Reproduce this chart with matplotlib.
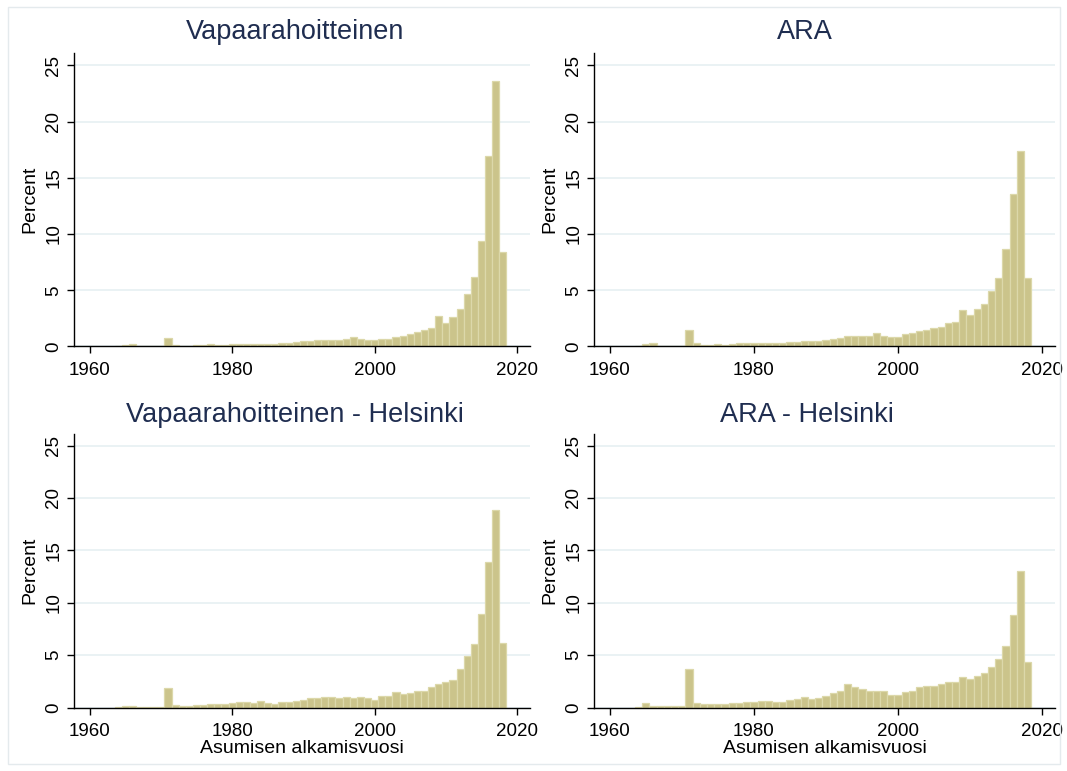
import numpy as np
import matplotlib
matplotlib.use('Agg')
import matplotlib.pyplot as plt
from matplotlib.patches import Rectangle

plt.rcParams['font.family'] = ['Liberation Sans', 'DejaVu Sans']

years = np.arange(1964, 2019)

vapaa = [0.06, 0.10, 0.18, 0.05, 0.05, 0.05, 0.05,
         0.77, 0.10, 0.06, 0.07, 0.10, 0.12, 0.18, 0.15, 0.15, 0.18,
         0.18, 0.24, 0.18, 0.24, 0.24, 0.24, 0.27, 0.33, 0.36, 0.48,
         0.48, 0.54, 0.62, 0.62, 0.60, 0.68, 0.86, 0.71, 0.60, 0.60,
         0.68, 0.68, 0.86, 0.95, 1.10, 1.28, 1.49, 1.67, 2.68, 2.10,
         2.60, 3.35, 4.65, 6.20, 9.40, 16.9, 23.6, 8.40]

ara = [0.06, 0.18, 0.27, 0.06, 0.05, 0.05, 0.05,
       1.43, 0.27, 0.12, 0.12, 0.18, 0.12, 0.24, 0.27, 0.30, 0.30,
       0.30, 0.30, 0.30, 0.30, 0.36, 0.36, 0.45, 0.48, 0.48, 0.60,
       0.68, 0.74, 0.95, 0.95, 0.92, 0.95, 1.22, 0.92, 0.86, 0.86,
       1.07, 1.19, 1.34, 1.46, 1.67, 1.73, 2.05, 2.14, 3.28, 2.78,
       3.30, 3.80, 4.95, 6.10, 8.70, 13.6, 17.4, 6.05]

vapaa_hki = [0.06, 0.13, 0.10, 0.06, 0.06, 0.06, 0.06,
             1.82, 0.22, 0.13, 0.13, 0.25, 0.25, 0.32, 0.32, 0.32, 0.41,
             0.54, 0.51, 0.41, 0.60, 0.41, 0.38, 0.51, 0.57, 0.64, 0.70,
             0.86, 0.86, 0.99, 0.99, 0.92, 0.99, 0.92, 0.99, 0.89, 0.73,
             1.08, 1.08, 1.46, 1.30, 1.40, 1.56, 1.62, 2.00, 2.20, 2.45,
             2.65, 3.65, 4.88, 6.10, 8.90, 13.85, 18.8, 6.17]

ara_hki = [0.06, 0.41, 0.16, 0.10, 0.16, 0.13, 0.10,
           3.63, 0.45, 0.29, 0.35, 0.35, 0.35, 0.41, 0.41, 0.54, 0.54,
           0.64, 0.60, 0.57, 0.48, 0.70, 0.80, 0.96, 0.80, 0.89, 1.11,
           1.40, 1.59, 2.23, 1.97, 1.78, 1.59, 1.56, 1.62, 1.24, 1.24,
           1.46, 1.62, 1.91, 2.04, 2.04, 2.23, 2.48, 2.48, 2.89, 2.73,
           3.05, 3.30, 3.88, 4.63, 5.84, 8.85, 13.0, 4.33]

titles = ['Vapaarahoitteinen', 'ARA',
          'Vapaarahoitteinen - Helsinki', 'ARA - Helsinki']
xticks = [1960, 1980, 2000, 2020]
yticks = [0, 5, 10, 15, 20, 25]

W, H = 1067, 771
fig = plt.figure(figsize=(W / 100, H / 100), dpi=100)
fig.patch.set_facecolor('white')

# outer frame like stata's graph region
fig.add_artist(Rectangle((8 / W, 1 - 764 / H), 1052 / W, 757 / H,
                         transform=fig.transFigure, fill=False,
                         edgecolor='#e4eaed', linewidth=1))

# pixel boxes: left, top, right, bottom
boxes = [(74, 53, 530, 346.5), (594, 53, 1055, 346.5),
         (74, 434, 530, 707.5), (594, 434, 1055, 707.5)]
title_pos = [(295, 32), (805, 32), (295, 415), (807, 415)]
series = [vapaa, ara, vapaa_hki, ara_hki]

for i, (box, vals) in enumerate(zip(boxes, series)):
    l, t, r, b = box
    ax = fig.add_axes([l / W, 1 - b / H, (r - l) / W, (b - t) / H])
    ax.bar(years, vals, width=1.0, color='#cbc48b', edgecolor='#dcd8aa',
           linewidth=0.9, zorder=2)
    ax.set_xlim(1957.8, 2021.8)
    ax.set_ylim(0, 26.1)
    ax.set_xticks(xticks)
    ax.set_yticks(yticks)
    ax.yaxis.grid(True, color='#e6f0f2', linewidth=1.2, zorder=0)
    ax.set_axisbelow(True)
    for s in ['top', 'right']:
        ax.spines[s].set_visible(False)
    for s in ['left', 'bottom']:
        ax.spines[s].set_linewidth(1.0)
    ax.tick_params(axis='both', direction='out', length=5, width=1.0,
                   labelsize=13.5)
    ax.tick_params(axis='x', pad=6)
    ax.tick_params(axis='y', pad=3.5)
    for lab in ax.get_yticklabels():
        lab.set_rotation(90)
        lab.set_va('center')
    ax.set_ylabel('Percent', fontsize=14)
    ax.yaxis.set_label_coords(-0.078, 0.5)
    if i >= 2:
        ax.set_xlabel('Asumisen alkamisvuosi', fontsize=14, labelpad=0)
    x, y = title_pos[i]
    fig.text(x / W, 1 - y / H, titles[i], fontsize=19.5, color='#1f2d50',
             ha='center', va='center')

fig.savefig('out.png', dpi=100)
